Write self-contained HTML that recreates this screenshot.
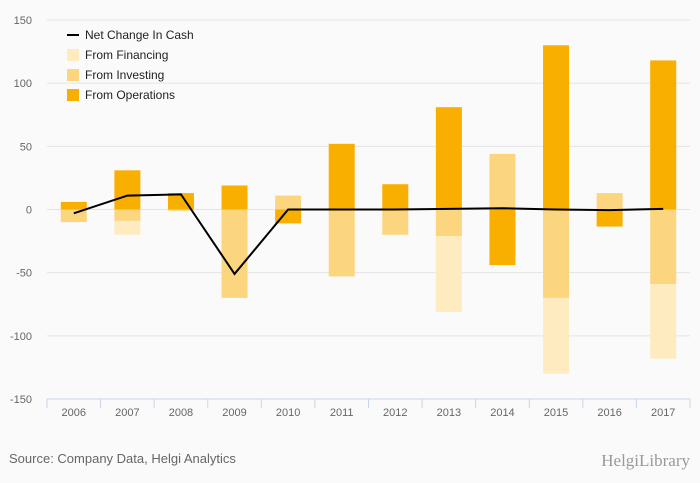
<!DOCTYPE html>
<html><head><meta charset="utf-8"><style>
body{margin:0;background:#fafafa;font-family:"Liberation Sans",sans-serif}
</style></head><body>
<svg id="c" width="700" height="483" style="display:block">
<rect width="700" height="483" fill="#fafafa"/>
</svg>
<script>
const years=["2006","2007","2008","2009","2010","2011","2012","2013","2014","2015","2016","2017"];
const operations=[6,31,13,19,-11,52,20,81,-44,130,-13.5,118];
const investing=[-10,-9,-1,-70,11,-53,-20,-21,44,-70,13,-59];
const financing=[0,-11,0,0,0,0,0,-60,0,-60,0,-59];
const netChange=[-3,11,12,-51,0,0,0,0.5,1,0,-0.5,0.5];
const yTicks=[150,100,50,0,-50,-100,-150];
const NS="http://www.w3.org/2000/svg",svg=document.getElementById('c');
const L=47,R=690,T=20,B=399,yMin=-150,yMax=150;
const y=v=>B-(v-yMin)/(yMax-yMin)*(B-T);
const step=(R-L)/years.length;
const xc=i=>L+step*(i+0.5);
function mk(t,a,p){const e=document.createElementNS(NS,t);for(const k in a)e.setAttribute(k,a[k]);(p||svg).appendChild(e);return e;}
yTicks.forEach(t=>{
 if(t!==yMin){const g=mk('line',{x1:L,x2:R,y1:y(t),y2:y(t),stroke:'#e4e4e4','stroke-width':1});
 
 }
 const tx=mk('text',{x:32,y:y(t)+4,'text-anchor':'end','font-size':11,fill:'#666'});tx.textContent=t;
 
 
});
const cols={ops:'#f9af00',inv:'#fcd57f',fin:'#feebc0'};
years.forEach((yr,i)=>{
 let pos=0,neg=0;
 [['ops',operations[i]],['inv',investing[i]],['fin',financing[i]]].forEach(([k,v])=>{
  if(!v)return;let a,b;
  if(v>0){a=pos;b=pos+v;pos=b;}else{a=neg;b=neg+v;neg=b;}
  const r=mk('rect',{x:xc(i)-13,width:26,y:Math.min(y(a),y(b)),height:Math.abs(y(a)-y(b)),fill:cols[k]});
  
  
 });
 const lb=mk('text',{x:xc(i),y:416,'text-anchor':'middle','font-size':11,fill:'#666'});lb.textContent=yr;
 
 
});
const ax=mk('line',{x1:L,x2:R,y1:B,y2:B,stroke:'#c8d6ec','stroke-width':1});


for(let i=0;i<=years.length;i++){const tk=mk('line',{x1:L+step*i,x2:L+step*i,y1:B,y2:B+9,stroke:'#c8d6ec'});
 
 }
const ln=mk('polyline',{points:netChange.map((v,i)=>xc(i)+','+y(v)).join(' '),fill:'none',stroke:'#000','stroke-width':2});


const leg=[['Net Change In Cash',null],['From Financing',cols.fin],['From Investing',cols.inv],['From Operations',cols.ops]];
leg.forEach(([t,c],j)=>{
 const yy=35+j*20;
 if(c){const s=mk('rect',{x:67,y:yy-6,width:12,height:12,fill:c});}
 else{const s=mk('line',{x1:67,x2:79,y1:yy,y2:yy,stroke:'#000','stroke-width':2});}
 const tx=mk('text',{x:85,y:yy+4,'font-size':12,fill:'#222'});tx.textContent=t;
 
 
});
const src=mk('text',{x:9,y:463,'font-size':13,fill:'#666'});src.textContent='Source: Company Data, Helgi Analytics';


const lg=mk('text',{x:690,y:466,'text-anchor':'end','font-size':17,fill:'#999','font-family':'Liberation Serif,serif'});lg.textContent='HelgiLibrary';


</script>
</body></html>
